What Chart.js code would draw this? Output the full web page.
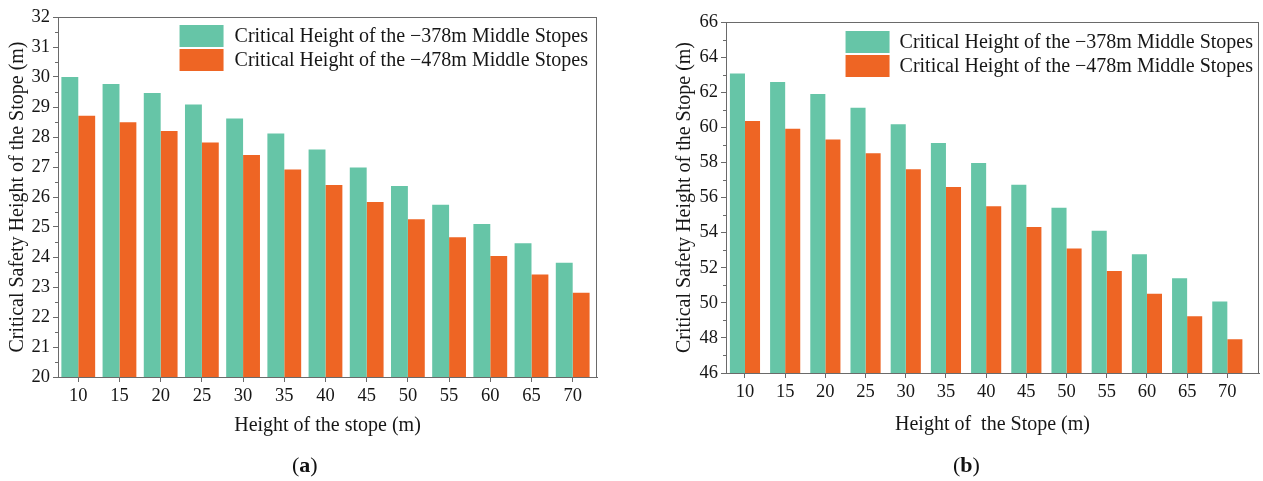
<!DOCTYPE html>
<html>
<head>
<meta charset="utf-8">
<script src="https://cdn.jsdelivr.net/npm/chart.js@4.4.1/dist/chart.umd.min.js"></script>
<style>
  body { margin: 0; background: #fff; width: 1263px; height: 481px; position: relative; overflow: hidden; font-family: "Liberation Serif", "Times New Roman", serif; }
  canvas { position: absolute; top: 0; }
  #chartA { left: 0; }
  #chartB { left: 632px; }
  .cap { position: absolute; top: 451px; font-size: 22px; color: #111; line-height: 28px; }
</style>
</head>
<body>
<canvas id="chartA" width="625" height="481"></canvas>
<canvas id="chartB" width="631" height="481"></canvas>
<div class="cap" style="left:292px">(<b>a</b>)</div>
<div class="cap" style="left:953px">(<b>b</b>)</div>
<script>
// stope heights (m) on the x axis
const stopeHeights = [10, 15, 20, 25, 30, 35, 40, 45, 50, 55, 60, 65, 70];

// (a) critical height
const criticalA378 = [30.0, 29.77, 29.47, 29.08, 28.62, 28.12, 27.58, 26.98, 26.37, 25.74, 25.1, 24.46, 23.81];
const criticalA478 = [28.71, 28.49, 28.2, 27.82, 27.4, 26.92, 26.4, 25.83, 25.26, 24.66, 24.03, 23.42, 22.81];

// (b) critical safety height
const criticalB378 = [63.06, 62.58, 61.9, 61.12, 60.17, 59.1, 57.97, 56.73, 55.42, 54.11, 52.76, 51.4, 50.07];
const criticalB478 = [60.36, 59.92, 59.3, 58.52, 57.61, 56.6, 55.5, 54.32, 53.09, 51.81, 50.52, 49.23, 47.92];

const label378 = "Critical Height of the \u2212378m Middle Stopes";
const label478 = "Critical Height of the \u2212478m Middle Stopes";
const yTitle = "Critical Safety Height of the Stope (m)";

const GREEN = "#66C5A7";
const ORANGE = "#EE6524";
const AXIS = "#6a6a6a";
const TEXT = "#161616";
const FONT = '"Liberation Serif", "Times New Roman", serif';

// legend drawn inside the plot, top right
const insideLegend = {
    id: "insideLegend",
    afterDatasetsDraw(chart, args, opts) {
        const { ctx, chartArea } = chart;
        ctx.save();
        ctx.font = opts.fontSize + "px " + FONT;
        ctx.textBaseline = "middle";
        const sets = chart.data.datasets;
        const textW = Math.max(...sets.map(d => ctx.measureText(d.label).width));
        const x0 = chartArea.right - opts.right - textW - opts.gap - opts.boxW;
        sets.forEach((d, i) => {
            const y = chartArea.top + opts.top + i * opts.rowH;
            ctx.fillStyle = d.backgroundColor;
            ctx.fillRect(x0, y, opts.boxW, opts.boxH);
            ctx.fillStyle = TEXT;
            ctx.fillText(d.label, x0 + opts.boxW + opts.gap, y + opts.boxH / 2 + 1);
        });
        ctx.restore();
    }
};

// frame round the plot and small minor ticks on y
const frameAndMinor = {
    id: "frameAndMinor",
    afterDraw(chart, args, opts) {
        const { ctx, chartArea } = chart;
        const y = chart.scales.y;
        ctx.save();
        ctx.strokeStyle = AXIS;
        ctx.lineWidth = 1;
        ctx.strokeRect(chartArea.left + 0.5, chartArea.top + 0.5, chartArea.width - 1, chartArea.height);
        ctx.beginPath();
        for (let v = y.min + opts.minorStep; v < y.max; v += opts.minorStep * 2) {
            const py = Math.round(y.getPixelForValue(v)) + 0.5;
            ctx.moveTo(chartArea.left - 3, py);
            ctx.lineTo(chartArea.left, py);
        }
        ctx.stroke();
        ctx.restore();
    }
};

function buildChart(id, cfg) {
    const canvas = document.getElementById(id);
    const W = canvas.width, H = canvas.height;
    const area = cfg.area;
    return new Chart(canvas.getContext("2d"), {
        type: "bar",
        data: {
            datasets: [
                { label: label378, data: stopeHeights.map((x, i) => ({ x, y: cfg.s1[i] })), backgroundColor: GREEN, borderWidth: 0 },
                { label: label478, data: stopeHeights.map((x, i) => ({ x, y: cfg.s2[i] })), backgroundColor: ORANGE, borderWidth: 0 }
            ]
        },
        options: {
            responsive: false,
            animation: false,
            categoryPercentage: cfg.barFrac,
            barPercentage: 1,
            layout: { padding: { left: cfg.padLeft, top: area.top, right: W - area.right, bottom: H - area.bottom - cfg.xHeight } },
            plugins: {
                legend: { display: false },
                tooltip: { enabled: false },
                insideLegend: cfg.legend,
                frameAndMinor: { minorStep: cfg.yStep / 2 }
            },
            scales: {
                x: {
                    type: "linear",
                    min: cfg.xMin,
                    max: cfg.xMax,
                    offset: false,
                    afterBuildTicks: scale => { scale.ticks = stopeHeights.map(v => ({ value: v })); },
                    afterFit: scale => { scale.height = cfg.xHeight; },
                    grid: { offset: false, drawOnChartArea: false, color: AXIS, tickLength: 5 },
                    border: { color: AXIS },
                    ticks: { color: TEXT, font: { family: FONT, size: 18.5 }, padding: 3, maxRotation: 0 },
                    title: { display: true, text: cfg.xTitle, color: TEXT, font: { family: FONT, size: 20 }, padding: { top: 4, bottom: 4 } }
                },
                y: {
                    min: cfg.yMin,
                    max: cfg.yMax,
                    afterFit: scale => { scale.width = area.left - cfg.padLeft; },
                    grid: { drawOnChartArea: false, color: AXIS, tickLength: 5 },
                    border: { color: AXIS },
                    ticks: { stepSize: cfg.yStep, color: TEXT, font: { family: FONT, size: 18.5 }, padding: 3 },
                    title: { display: true, text: yTitle, color: TEXT, font: { family: FONT, size: 20 }, padding: { top: 6, bottom: 0 } }
                }
            }
        },
        plugins: [insideLegend, frameAndMinor]
    });
}

buildChart("chartA", {
    s1: criticalA378, s2: criticalA478,
    area: { left: 58, top: 17, right: 597, bottom: 377 },
    padLeft: 0, xHeight: 65,
    xMin: 7.54, xMax: 72.95, barFrac: 0.82,
    yMin: 20, yMax: 32, yStep: 1,
    xTitle: "Height of the stope (m)",
    legend: { fontSize: 20, top: 8, right: 9, gap: 11, boxW: 44, boxH: 22, rowH: 24 }
});

buildChart("chartB", {
    s1: criticalB378, s2: criticalB478,
    area: { left: 94, top: 22, right: 627, bottom: 373 },
    padLeft: 35, xHeight: 68,
    xMin: 7.64, xMax: 73.94, barFrac: 0.75,
    yMin: 46, yMax: 66, yStep: 2,
    xTitle: "Height of  the Stope (m)",
    legend: { fontSize: 20, top: 9, right: 6, gap: 10, boxW: 44, boxH: 22, rowH: 24 }
});
</script>
</body>
</html>
